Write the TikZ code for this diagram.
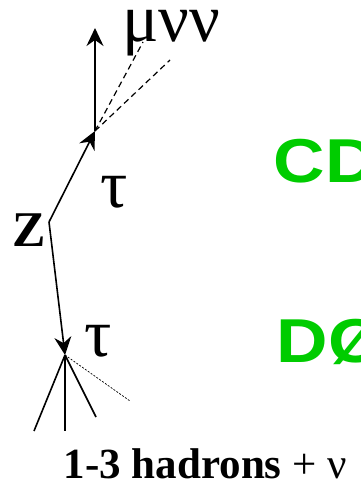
\documentclass[tikz,border=0pt]{standalone}
\usepackage{fontspec}
\setmainfont{Liberation Serif}
\newfontfamily\exptfont[FakeStretch=1.15]{Liberation Sans}
\usetikzlibrary{arrows.meta}
\definecolor{expgreen}{RGB}{0,204,0}

\begin{document}
\begin{tikzpicture}[x=1pt, y=-1pt, line width=1.6pt,
  tip/.style={-{Stealth[length=18pt, width=17pt, inset=6pt]}},
  nu/.style={line width=1.2pt, dash pattern=on 6pt off 4pt},
  soft/.style={line width=0.7pt, dash pattern=on 2pt off 1.5pt},
  greek/.style={inner sep=0pt, anchor=base, text height=0.5em, text depth=0.15em,
    font=\fontsize{68}{68}\selectfont},
  expt/.style={inner sep=0pt, anchor=base west, text=expgreen,
    text height=0.72em, text depth=0pt,
    font=\exptfont\bfseries\fontsize{62}{62}\selectfont}]

  \useasboundingbox (0,0) rectangle (360,487);

  % vertices
  \coordinate (Z)  at (49,222);
  \coordinate (T1) at (95,131);
  \coordinate (T2) at (65,355);
  % tau -> mu nu nu
  \coordinate (Mu) at (95,28);
  \coordinate (N1) at (143,42);
  \coordinate (N2) at (170,60);
  % tau -> hadrons + nu
  \coordinate (H1) at (34,431);
  \coordinate (H2) at (65,431);
  \coordinate (H3) at (96,417);
  \coordinate (H4) at (130,401);

  \draw[tip] (Z) -- (T1);
  \draw[tip] (Z) -- (T2);
  \draw[tip] (T1) -- (Mu);
  \draw[nu] (T1) -- (N1);
  \draw[nu] (T1) -- (N2);
  \draw (T2) -- (H1);
  \draw (T2) -- (H2);
  \draw (T2) -- (H3);
  \draw[soft] (T2) -- (H4);

  \node[greek] (mununu) at (171,42) {μνν};
  \node[greek] (tauA) at (114,207) {τ};
  \node[greek] (tauB) at (98,356) {τ};
  \node[inner sep=0pt, anchor=base, font=\bfseries\fontsize{50}{50}\selectfont]
    (zlabel) at (29,246) {Z};
  \node[expt] (cdf) at (273,182) {CD};
  \node[expt] (dzero) at (276,362) {DØ};
  \node[inner sep=0pt, anchor=base west, font=\fontsize{43}{43}\selectfont]
    (hadrons) at (63,478) {\textbf{1-3 hadrons} + ν};
\end{tikzpicture}
\end{document}
